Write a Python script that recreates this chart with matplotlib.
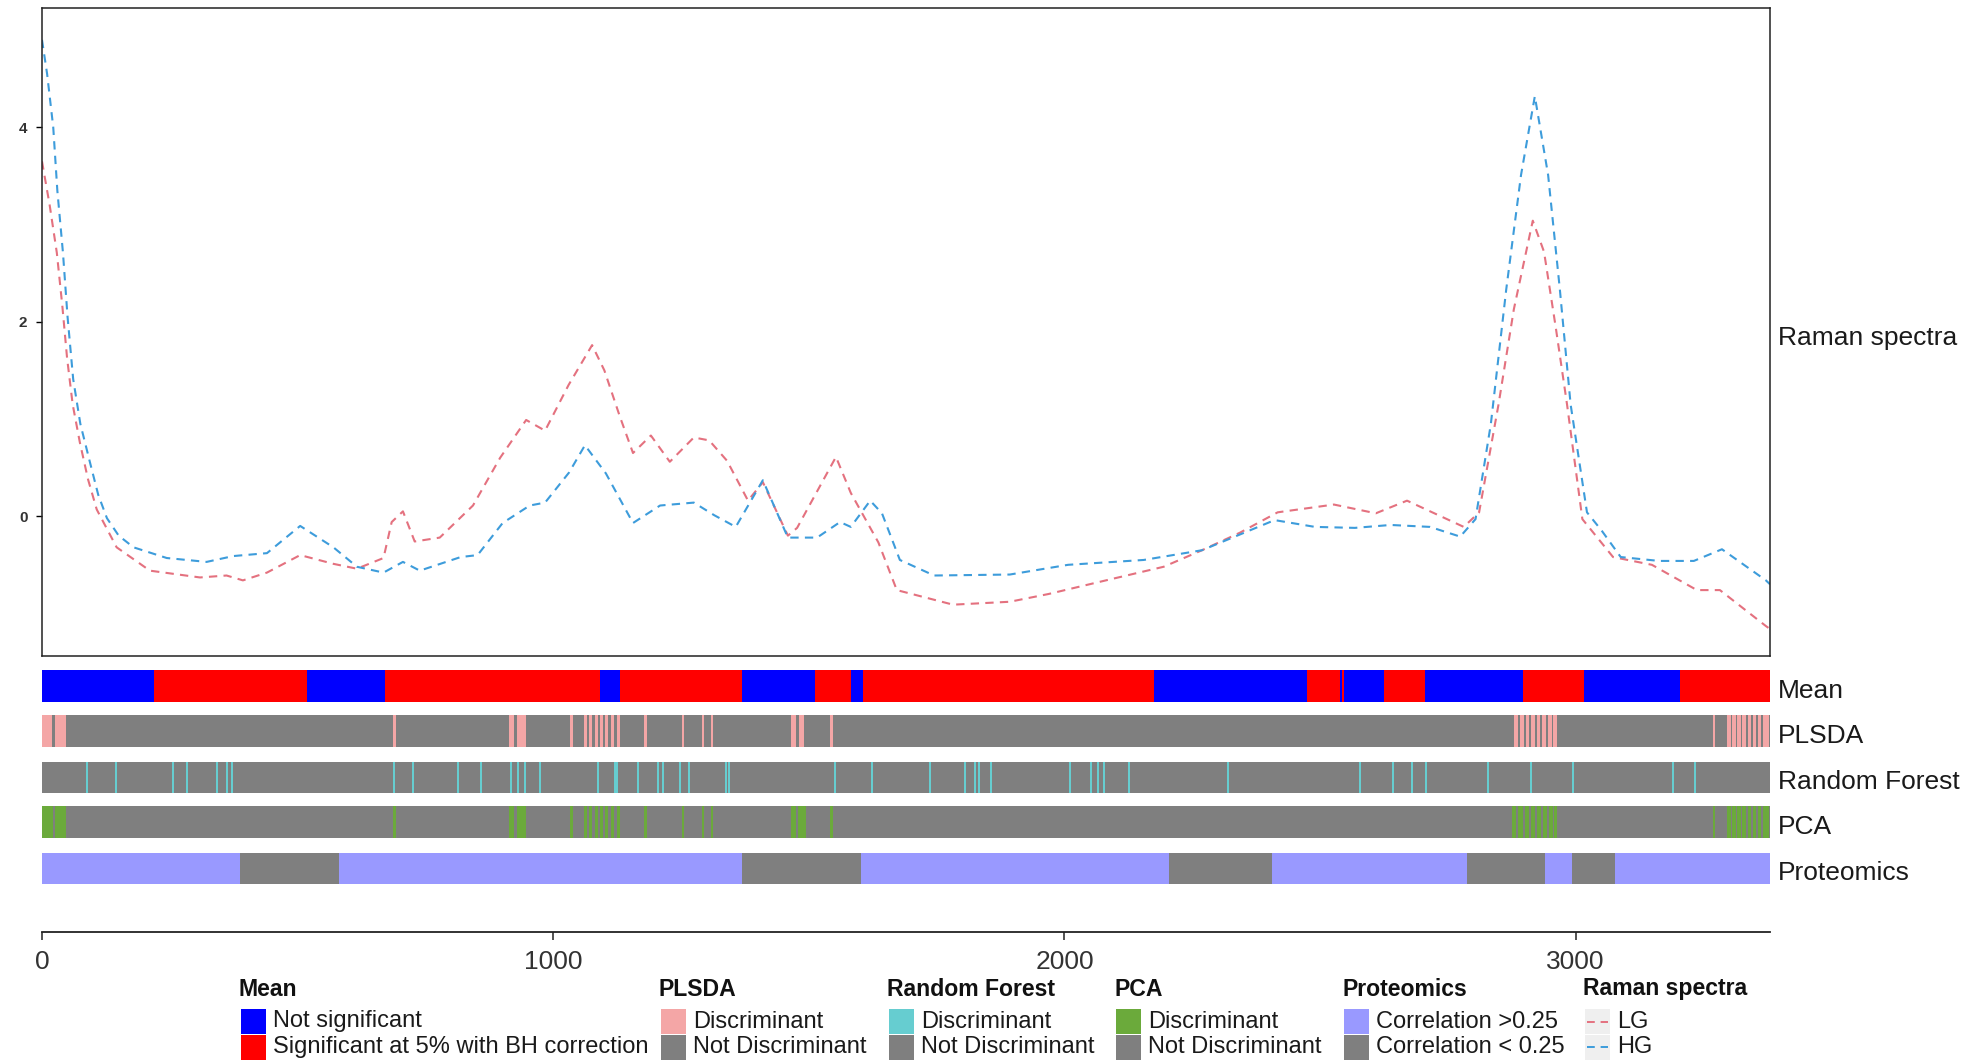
import matplotlib
matplotlib.use("Agg")
import matplotlib.pyplot as plt
from matplotlib.patches import Rectangle
from matplotlib.lines import Line2D

plt.rcParams['font.family'] = ['Liberation Sans', 'DejaVu Sans']

# DATA : mean Raman spectra (wavenumber, intensity)
hg_wn = [0, 10, 22, 30, 41, 50, 61, 75, 94, 110, 127, 150, 179, 244, 322, 374, 440, 505, 570,
         616, 668, 706, 739, 819, 852, 901, 954, 984, 1031, 1062, 1103, 1156, 1209, 1275, 1315,
         1357, 1410, 1459, 1516, 1561, 1582, 1620, 1643, 1678, 1745, 1893, 2007, 2155, 2269,
         2411, 2490, 2568, 2638, 2715, 2774, 2804, 2834, 2864, 2893, 2920, 2946, 2969, 2990,
         3022, 3051, 3088, 3163, 3231, 3286, 3372, 3380]
hg_int = [4.90, 4.55, 4.00, 3.35, 2.71, 2.05, 1.41, 0.95, 0.55, 0.22, -0.02, -0.20, -0.32,
          -0.43, -0.47, -0.41, -0.38, -0.10, -0.32, -0.52, -0.58, -0.47, -0.56, -0.42, -0.40,
          -0.07, 0.11, 0.14, 0.45, 0.73, 0.44, -0.07, 0.11, 0.14, 0.01, -0.11, 0.37, -0.22,
          -0.22, -0.06, -0.11, 0.16, 0.03, -0.45, -0.61, -0.60, -0.50, -0.45, -0.35, -0.04,
          -0.11, -0.12, -0.09, -0.11, -0.21, -0.03, 0.95, 2.33, 3.51, 4.32, 3.51, 2.33, 1.15,
          0.04, -0.15, -0.42, -0.46, -0.46, -0.34, -0.66, -0.70]

lg_wn = [0, 15, 29, 40, 49, 60, 74, 90, 107, 146, 211, 309, 361, 393, 440, 505, 570, 616, 668,
         684, 706, 729, 778, 843, 896, 947, 984, 1030, 1076, 1100, 1130, 1156, 1191, 1228, 1275,
         1305, 1340, 1381, 1410, 1459, 1477, 1553, 1582, 1636, 1672, 1782, 1893, 1969, 2081,
         2194, 2269, 2343, 2417, 2527, 2609, 2670, 2781, 2811, 2849, 2879, 2916, 2938, 2961,
         2983, 3013, 3073, 3149, 3237, 3282, 3372, 3380]
lg_int = [3.65, 3.20, 2.71, 2.15, 1.63, 1.15, 0.76, 0.38, 0.07, -0.32, -0.56, -0.63, -0.61,
          -0.66, -0.58, -0.40, -0.49, -0.54, -0.43, -0.06, 0.05, -0.26, -0.22, 0.11, 0.60, 0.99,
          0.88, 1.35, 1.76, 1.50, 1.03, 0.65, 0.83, 0.56, 0.81, 0.78, 0.57, 0.16, 0.35, -0.20,
          -0.12, 0.61, 0.24, -0.27, -0.76, -0.91, -0.88, -0.80, -0.66, -0.52, -0.35, -0.17,
          0.04, 0.12, 0.03, 0.16, -0.11, 0.04, 1.15, 2.13, 3.04, 2.72, 1.94, 1.15, -0.03, -0.42,
          -0.50, -0.76, -0.76, -1.13, -1.16]

# Mean test: segment edges and 1 = significant at 5% with BH correction
mean_edges = [0, 220, 518, 671, 1091, 1130, 1369, 1512, 1582, 1606, 2175, 2474, 2538, 2543,
              2547, 2625, 2706, 2710, 2897, 3017, 3203, 3380]
mean_sig = [0, 1, 0, 1, 0, 1, 0, 1, 0, 1, 0, 1, 0, 1, 0, 1, 0, 0, 1, 0, 1]

# PLSDA discriminant wavenumber ranges
plsda_start = [0, 26, 686, 913, 929, 1033, 1060, 1070, 1081, 1091, 1102, 1113, 1125, 1178,
               1251, 1290, 1308, 1465, 1480, 1542, 2880, 2891, 2902, 2913, 2924, 2935, 2946,
               2956, 3268, 3296, 3306, 3316, 3326, 3336, 3346, 3356, 3366]
plsda_end = [20, 47, 692, 924, 946, 1038, 1066, 1076, 1087, 1097, 1108, 1119, 1131, 1183,
             1256, 1295, 1313, 1474, 1490, 1548, 2887, 2898, 2909, 2920, 2931, 2942, 2953,
             2963, 3273, 3303, 3313, 3323, 3333, 3343, 3353, 3363, 3378]

# Random Forest discriminant wavenumbers
rf_disc = [88, 145, 257, 283, 343, 361, 372, 688, 725, 814, 858, 917, 931, 944, 974, 1088,
           1121, 1125, 1166, 1205, 1215, 1248, 1265, 1338, 1344, 1551, 1623, 1737, 1805, 1825,
           1833, 1856, 2010, 2052, 2065, 2077, 2126, 2320, 2578, 2642, 2680, 2707, 2828, 2912,
           2994, 3190, 3233]

# PCA discriminant wavenumber ranges
pca_start = [0, 26, 686, 913, 929, 1033, 1060, 1070, 1081, 1091, 1102, 1113, 1125, 1178,
             1251, 1290, 1308, 1465, 1479, 1542, 2876, 2888, 2900, 2912, 2924, 2936, 2948,
             2957, 3268, 3296, 3306, 3316, 3326, 3336, 3346, 3356, 3366]
pca_end = [21, 47, 692, 924, 946, 1038, 1066, 1076, 1087, 1097, 1108, 1119, 1131, 1183,
           1256, 1295, 1313, 1474, 1495, 1548, 2884, 2896, 2908, 2920, 2932, 2944, 2955,
           2963, 3272, 3303, 3313, 3323, 3333, 3343, 3353, 3363, 3378]

# Proteomics: segment edges and 1 = correlation > 0.25
prot_edges = [0, 387, 580, 1369, 1602, 2204, 2405, 2787, 2940, 2992, 3076, 3380]
prot_corr = [1, 0, 1, 0, 1, 0, 1, 0, 1, 0, 1]

XMAX = 3380
BLUE, RED, GREY = '#0000FF', '#FF0000', '#7F7F7F'
PINK, CYAN, GREEN, VIOLET = '#F4A6A6', '#66CDD0', '#6BAA3B', '#9999FF'
LG_COL, HG_COL = '#E4717F', '#3D9CDB'

W, H = 1977, 1060
fig = plt.figure(figsize=(W / 100, H / 100), dpi=100)


def fbox(x0, y0, x1, y1):
    return [x0 / W, 1 - y1 / H, (x1 - x0) / W, (y1 - y0) / H]


# GRAPHS : spectra panel
ax = fig.add_axes(fbox(42, 8, 1770, 656))
ax.plot(lg_wn, lg_int, color=LG_COL, lw=1.5, dashes=(4, 3))
ax.plot(hg_wn, hg_int, color=HG_COL, lw=1.5, dashes=(4, 3))
ax.set_xlim(0, XMAX)
lo = min(min(lg_int), min(hg_int))
hi = max(max(lg_int), max(hg_int))
pad = 0.05 * (hi - lo)
ax.set_ylim(lo - pad + 0.025, hi + pad + 0.025)
ax.set_xticks([])
ax.set_yticks([0, 2, 4])
ax.tick_params(axis='y', length=4.5, width=1, pad=6, labelsize=11, labelcolor='#333333')
for t in ax.get_yticklabels():
    t.set_fontweight('bold')
for s in ax.spines.values():
    s.set_linewidth(1.1)
    s.set_color('#222222')
fig.text(1778 / W, 1 - 338 / H, "Raman spectra", fontsize=19, va='center', ha='left',
         color='#1a1a1a')

# tracks
axb = fig.add_axes(fbox(42, 660, 1770, 932))
axb.set_xlim(0, XMAX)
axb.set_ylim(932, 660)
rows = {'Mean': (669.5, 32), 'PLSDA': (715, 32), 'Random Forest': (761.5, 31),
        'PCA': (806, 32), 'Proteomics': (852.5, 31)}


def segs(edges, flags, val):
    return [(edges[i], edges[i + 1] - edges[i]) for i in range(len(flags)) if flags[i] == val]


axb.broken_barh(segs(mean_edges, mean_sig, 0), rows['Mean'], facecolors=BLUE)
axb.broken_barh(segs(mean_edges, mean_sig, 1), rows['Mean'], facecolors=RED)

axb.broken_barh([(0, XMAX)], rows['PLSDA'], facecolors=GREY)
axb.broken_barh([(s, e - s) for s, e in zip(plsda_start, plsda_end)], rows['PLSDA'],
                facecolors=PINK)

axb.broken_barh([(0, XMAX)], rows['Random Forest'], facecolors=GREY)
axb.broken_barh([(w - 2, 4) for w in rf_disc], rows['Random Forest'], facecolors=CYAN)

axb.broken_barh([(0, XMAX)], rows['PCA'], facecolors=GREY)
axb.broken_barh([(s, e - s) for s, e in zip(pca_start, pca_end)], rows['PCA'],
                facecolors=GREEN)

axb.broken_barh(segs(prot_edges, prot_corr, 1), rows['Proteomics'], facecolors=VIOLET)
axb.broken_barh(segs(prot_edges, prot_corr, 0), rows['Proteomics'], facecolors=GREY)

for name, (y0, h) in rows.items():
    fig.text(1778 / W, 1 - (y0 + h / 2 + 5) / H, name, fontsize=19, va='center', ha='left',
             color='#1a1a1a')

for side in ['top', 'left', 'right']:
    axb.spines[side].set_visible(False)
axb.spines['bottom'].set_linewidth(1.3)
axb.spines['bottom'].set_color('#222222')
axb.set_yticks([])
axb.set_xticks([0, 1000, 2000, 3000])
axb.tick_params(axis='x', length=6, width=1.1, pad=7, labelsize=19, labelcolor='#333333',
                color='#222222')
axb.patch.set_alpha(0)

# legends
TITLE_FONT = ['Liberation Sans Narrow', 'Liberation Sans', 'DejaVu Sans']


def legend_block(x, title, labels, colors, lines=False):
    fig.text((x - 2) / W, 1 - 989 / H, title, fontsize=16.6, fontweight='bold',
             family=TITLE_FONT, va='center', ha='left', color='#111111')
    for j, (lab, col) in enumerate(zip(labels, colors)):
        y0 = 1009 + j * 25.5
        if lines:
            fig.patches.append(Rectangle((x / W, 1 - (y0 + 25) / H), 25 / W, 25 / H,
                                         transform=fig.transFigure, facecolor='#EFEFEF',
                                         edgecolor='none'))
            fig.lines.append(Line2D([(x + 2) / W, (x + 23) / W],
                                    [1 - (y0 + 12.5) / H, 1 - (y0 + 12.5) / H],
                                    transform=fig.transFigure, color=col, lw=1.4,
                                    dashes=(4, 3)))
        else:
            fig.patches.append(Rectangle((x / W, 1 - (y0 + 25) / H), 25 / W, 25 / H,
                                         transform=fig.transFigure, facecolor=col,
                                         edgecolor='none'))
        fig.text((x + 32) / W, 1 - (y0 + 12.5) / H, lab, fontsize=17, va='center',
                 ha='left', color='#1a1a1a')


legend_block(241, "Mean", ["Not significant", "Significant at 5% with BH correction"],
             [BLUE, RED])
legend_block(661, "PLSDA", ["Discriminant", "Not Discriminant"], [PINK, GREY])
legend_block(889, "Random Forest", ["Discriminant", "Not Discriminant"], [CYAN, GREY])
legend_block(1116, "PCA", ["Discriminant", "Not Discriminant"], [GREEN, GREY])
legend_block(1344, "Proteomics", ["Correlation >0.25", "Correlation < 0.25"], [VIOLET, GREY])
legend_block(1585, "Raman spectra", ["LG", "HG"], [LG_COL, HG_COL], lines=True)

plt.savefig("out.png", dpi=100)
plt.close()
